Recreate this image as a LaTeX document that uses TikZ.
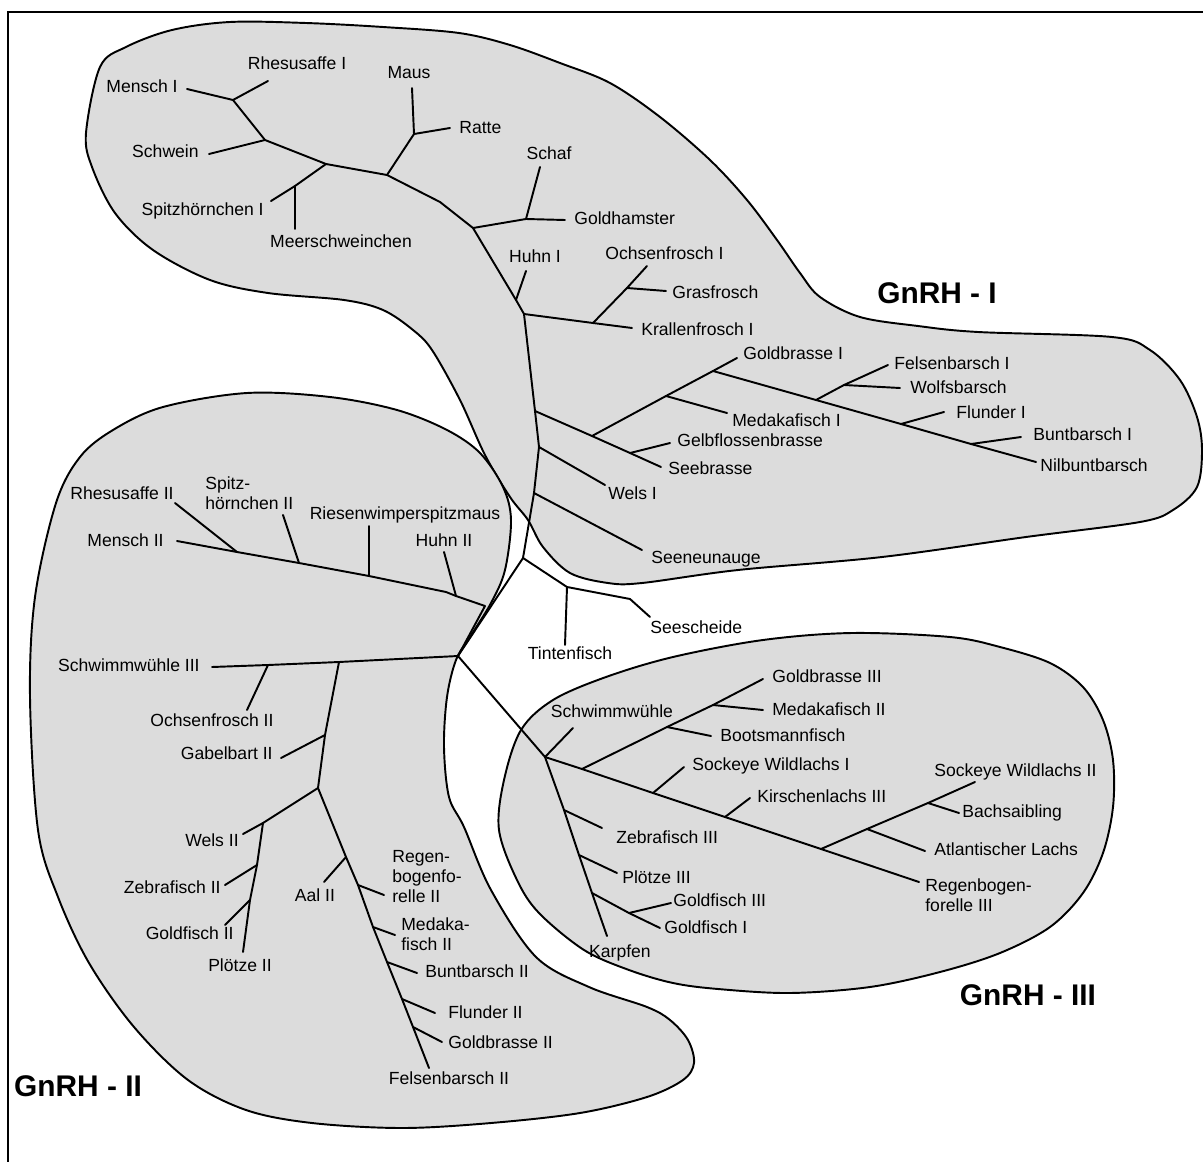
\documentclass[tikz,border=0pt]{standalone}
\usepackage{fontspec}
\setmainfont{Liberation Sans}
\usepackage{xcolor}
\usepackage{tikz}
\definecolor{blobgray}{RGB}{220,220,220}

\begin{document}
\begin{tikzpicture}[x=0.02cm, y=-0.02cm,
        branch/.style={line width=1.1pt, line join=round, line cap=round},
        group/.style={fill=blobgray, draw=black, line width=1.1pt},
        taxon/.style={inner sep=0pt, text height=7.2pt, text depth=0pt, font=\fontsize{10}{11.4}\selectfont},
        taxonml/.style={inner sep=0pt, align=left, anchor=north west, font=\fontsize{10}{11.4}\selectfont},
        gene/.style={inner sep=0pt, font=\fontsize{17}{20}\selectfont\bfseries}]
        \useasboundingbox (0,0) rectangle (1203,1162);

        % frame (only top and left edge show)
        \draw[line width=1.1pt] (8,1162) -- (8,12) -- (1203,12);

        % the three groups
        \draw[group] plot[smooth cycle, tension=0.55] coordinates {(86,133) (100,67) (126,47) (172,30) (230,22) (306,23) (383,27) (459,33) (510,45) (560,63) (610,83) (660,117) (710,160) (747,200) (777,240) (800,273) (820,297) (860,317) (918,326) (978,332) (1112,337) (1150,350) (1180,380) (1197,417) (1202,450) (1197,487) (1173,510) (1140,522) (1026,537) (882,557) (738,570) (642,583) (608,583) (570,573) (543,547) (528,520) (510,497) (485,455) (460,400) (432,350) (413,330) (383,310) (344,300) (268,293) (210,280) (153,250) (115,213) (92,167)};
        \draw[group] plot[smooth cycle, tension=0.55] coordinates {(80,457) (113,430) (163,407) (247,393) (330,397) (397,410) (447,430) (480,453) (503,487) (511,520) (505,570) (491,603) (470,637) (456,660) (447,697) (444,747) (449,797) (464,827) (491,890) (536,957) (589,987) (647,1007) (670,1020) (688,1040) (694,1063) (683,1080) (647,1097) (580,1113) (491,1123) (402,1128) (312,1123) (246,1110) (188,1080) (134,1027) (89,963) (58,897) (38,830) (30,697) (35,597) (56,503)};
        \draw[group] plot[smooth cycle, tension=0.55] coordinates {(950,637) (1000,647) (1050,663) (1083,687) (1103,720) (1113,760) (1113,807) (1103,853) (1083,893) (1050,927) (1000,953) (940,972) (870,987) (790,993) (718,989) (673,983) (629,970) (584,950) (539,913) (517,880) (499,830) (504,780) (521,730) (553,700) (606,677) (673,657) (763,640) (852,633)};

        \node[gene] (gnrh1) at (937,293) {GnRH - I};
        \node[gene] (gnrh2) at (78,1086) {GnRH - II};
        \node[gene] (gnrh3) at (1028,995) {GnRH - III};

        % inner points of the tree
        \coordinate (a1) at (233,100);
        \coordinate (a2) at (265,140);
        \coordinate (a3) at (326,164);
        \coordinate (a4) at (295,186);
        \coordinate (a5) at (387,175);
        \coordinate (a5b) at (440,202);
        \coordinate (a6) at (414,134);
        \coordinate (a7) at (473,228);
        \coordinate (a8) at (526,219);
        \coordinate (hu1) at (516,300);
        \coordinate (a9) at (524,314);
        \coordinate (b1) at (593,323);
        \coordinate (b2) at (627,288);
        \coordinate (ta) at (535,411);
        \coordinate (tb) at (539,447);
        \coordinate (tc) at (534,493);
        \coordinate (t1) at (523,558);
        \coordinate (t2) at (567,587);
        \coordinate (t2b) at (630,599);
        \coordinate (t3) at (458,656);
        \coordinate (c1) at (592,436);
        \coordinate (c1b) at (630,453);
        \coordinate (c2) at (666,396);
        \coordinate (c3) at (713,371);
        \coordinate (d1) at (816,400);
        \coordinate (d1a) at (844,385);
        \coordinate (d2) at (901,424);
        \coordinate (d3) at (971,444);
        \coordinate (m0) at (485,606);
        \coordinate (m1) at (237,552);
        \coordinate (m2) at (299,563);
        \coordinate (m3) at (369,576);
        \coordinate (m4) at (446,592);
        \coordinate (m5) at (456,596);
        \coordinate (n1) at (268,665);
        \coordinate (n2) at (339,662);
        \coordinate (l0) at (325,735);
        \coordinate (l1) at (318,788);
        \coordinate (l2) at (263,823);
        \coordinate (l3) at (257,865);
        \coordinate (l4) at (250,900);
        \coordinate (r1) at (346,857);
        \coordinate (r2) at (358,885);
        \coordinate (r3) at (373,927);
        \coordinate (r4) at (387,962);
        \coordinate (r5) at (402,999);
        \coordinate (r6) at (413,1027);
        \coordinate (g0) at (545,757);
        \coordinate (g1) at (564,810);
        \coordinate (g2) at (579,855);
        \coordinate (g3) at (592,893);
        \coordinate (g3a) at (629,913);
        \coordinate (j1) at (582,769);
        \coordinate (j2) at (653,793);
        \coordinate (j3) at (725,817);
        \coordinate (j4) at (821,849);
        \coordinate (k1) at (667,727);
        \coordinate (k2) at (713,705);
        \coordinate (p1) at (867,829);
        \coordinate (p2) at (928,803);

        % leaf ends
        \coordinate (mensch1) at (187,89);
        \coordinate (rhesus1) at (268,81);
        \coordinate (schwein) at (209,154);
        \coordinate (spitz1) at (271,201);
        \coordinate (meer) at (295,229);
        \coordinate (maus) at (412,88);
        \coordinate (ratte) at (450,128);
        \coordinate (schaf) at (540,167);
        \coordinate (hamster) at (565,220);
        \coordinate (huhn1) at (526,271);
        \coordinate (ochsen1) at (647,266);
        \coordinate (gras) at (666,291);
        \coordinate (krallen) at (632,328);
        \coordinate (goldbr1) at (737,358);
        \coordinate (medaka1) at (727,413);
        \coordinate (gelb) at (670,443);
        \coordinate (seebr) at (661,467);
        \coordinate (fels1) at (888,365);
        \coordinate (wolf) at (900,388);
        \coordinate (flund1) at (944,412);
        \coordinate (bunt1) at (1021,437);
        \coordinate (nil) at (1036,462);
        \coordinate (wels1) at (605,485);
        \coordinate (neunauge) at (642,550);
        \coordinate (tinten) at (565,645);
        \coordinate (seesch) at (650,617);
        \coordinate (rhesus2) at (175,503);
        \coordinate (spitz2) at (283,515);
        \coordinate (riesen) at (369,526);
        \coordinate (mensch2) at (177,541);
        \coordinate (huhn2) at (444,552);
        \coordinate (schwimm3) at (212,667);
        \coordinate (ochsen2) at (247,710);
        \coordinate (gabel) at (281,758);
        \coordinate (wels2) at (243,834);
        \coordinate (zebra2) at (225,885);
        \coordinate (gold2) at (225,925);
        \coordinate (ploetze2) at (243,952);
        \coordinate (aal) at (324,882);
        \coordinate (regen2) at (384,895);
        \coordinate (medaka2b) at (395,935);
        \coordinate (bunt2) at (417,973);
        \coordinate (flund2) at (435,1013);
        \coordinate (goldbr2) at (442,1042);
        \coordinate (fels2) at (429,1068);
        \coordinate (schwimm) at (573,728);
        \coordinate (zebra3) at (602,828);
        \coordinate (ploetze3) at (617,873);
        \coordinate (gold3) at (671,903);
        \coordinate (gold1) at (660,928);
        \coordinate (karpfen) at (607,936);
        \coordinate (goldbr3) at (763,679);
        \coordinate (medaka2) at (763,710);
        \coordinate (boots) at (711,736);
        \coordinate (sock1) at (684,767);
        \coordinate (kirsch) at (750,798);
        \coordinate (sock2) at (975,782);
        \coordinate (bach) at (959,813);
        \coordinate (atl) at (925,851);
        \coordinate (regen3) at (919,882);

        % GnRH - I
        \draw[branch] (mensch1) -- (a1) -- (a2) -- (a3) -- (a5) -- (a5b) -- (a7) -- (hu1) -- (a9) -- (ta) -- (tb) -- (tc) -- (t1);
        \draw[branch] (a1) -- (rhesus1);
        \draw[branch] (a2) -- (schwein);
        \draw[branch] (a3) -- (a4) -- (spitz1);
        \draw[branch] (a4) -- (meer);
        \draw[branch] (a5) -- (a6) -- (maus);
        \draw[branch] (a6) -- (ratte);
        \draw[branch] (a7) -- (a8) -- (schaf);
        \draw[branch] (a8) -- (hamster);
        \draw[branch] (hu1) -- (huhn1);
        \draw[branch] (a9) -- (b1) -- (krallen);
        \draw[branch] (b1) -- (b2) -- (ochsen1);
        \draw[branch] (b2) -- (gras);
        \draw[branch] (ta) -- (c1) -- (c1b) -- (seebr);
        \draw[branch] (c1b) -- (gelb);
        \draw[branch] (c1) -- (c2) -- (c3) -- (goldbr1);
        \draw[branch] (c2) -- (medaka1);
        \draw[branch] (c3) -- (d1) -- (d2) -- (d3) -- (nil);
        \draw[branch] (d1) -- (d1a) -- (fels1);
        \draw[branch] (d1a) -- (wolf);
        \draw[branch] (d2) -- (flund1);
        \draw[branch] (d3) -- (bunt1);
        \draw[branch] (tb) -- (wels1);
        \draw[branch] (tc) -- (neunauge);

        % centre
        \draw[branch] (t1) -- (t2) -- (tinten);
        \draw[branch] (t2) -- (t2b) -- (seesch);
        \draw[branch] (t1) -- (t3);
        \draw[branch] (t3) -- (g0);

        % GnRH - II
        \draw[branch] (mensch2) -- (m1) -- (m2) -- (m3) -- (m4) -- (m5) -- (m0) -- (t3);
        \draw[branch] (rhesus2) -- (m1);
        \draw[branch] (spitz2) -- (m2);
        \draw[branch] (riesen) -- (m3);
        \draw[branch] (huhn2) -- (m5);
        \draw[branch] (t3) -- (n2) -- (n1) -- (schwimm3);
        \draw[branch] (n1) -- (ochsen2);
        \draw[branch] (n2) -- (l0) -- (l1);
        \draw[branch] (l0) -- (gabel);
        \draw[branch] (l1) -- (l2) -- (wels2);
        \draw[branch] (l2) -- (l3) -- (l4) -- (ploetze2);
        \draw[branch] (l3) -- (zebra2);
        \draw[branch] (l4) -- (gold2);
        \draw[branch] (l1) -- (r1) -- (r2) -- (r3) -- (r4) -- (r5) -- (r6) -- (fels2);
        \draw[branch] (r1) -- (aal);
        \draw[branch] (r2) -- (regen2);
        \draw[branch] (r3) -- (medaka2b);
        \draw[branch] (r4) -- (bunt2);
        \draw[branch] (r5) -- (flund2);
        \draw[branch] (r6) -- (goldbr2);

        % GnRH - III
        \draw[branch] (g0) -- (schwimm);
        \draw[branch] (g0) -- (g1) -- (g2) -- (g3) -- (karpfen);
        \draw[branch] (g1) -- (zebra3);
        \draw[branch] (g2) -- (ploetze3);
        \draw[branch] (g3) -- (g3a) -- (gold1);
        \draw[branch] (g3a) -- (gold3);
        \draw[branch] (g0) -- (j1) -- (j2) -- (j3) -- (j4) -- (regen3);
        \draw[branch] (j1) -- (k1) -- (k2) -- (goldbr3);
        \draw[branch] (k2) -- (medaka2);
        \draw[branch] (k1) -- (boots);
        \draw[branch] (j2) -- (sock1);
        \draw[branch] (j3) -- (kirsch);
        \draw[branch] (j4) -- (p1) -- (p2) -- (sock2);
        \draw[branch] (p1) -- (atl);
        \draw[branch] (p2) -- (bach);

        % labels GnRH - I
        \node[taxon, anchor=east] (l-mensch1) at (178,86) {Mensch I};
        \node[taxon] (l-rhesus1) at (297,63) {Rhesusaffe I};
        \node[taxon, anchor=east] (l-schwein) at (199,151) {Schwein};
        \node[taxon, anchor=east] (l-spitz1) at (264,209) {Spitzhörnchen I};
        \node[taxon] (l-meer) at (341,241) {Meerschweinchen};
        \node[taxon] (l-maus) at (409,72) {Maus};
        \node[taxon, anchor=west] (l-ratte) at (459,127) {Ratte};
        \node[taxon] (l-schaf) at (549,153) {Schaf};
        \node[taxon, anchor=west] (l-hamster) at (574,218) {Goldhamster};
        \node[taxon] (l-huhn1) at (535,256) {Huhn I};
        \node[taxon, anchor=west] (l-ochsen1) at (605,253) {Ochsenfrosch I};
        \node[taxon, anchor=west] (l-gras) at (672,292) {Grasfrosch};
        \node[taxon, anchor=west] (l-krallen) at (641,329) {Krallenfrosch I};
        \node[taxon, anchor=west] (l-goldbr1) at (743,353) {Goldbrasse I};
        \node[taxon, anchor=west] (l-medaka1) at (732,420) {Medakafisch I};
        \node[taxon, anchor=west] (l-gelb) at (677,440) {Gelbflossenbrasse};
        \node[taxon, anchor=west] (l-seebr) at (668,468) {Seebrasse};
        \node[taxon, anchor=west] (l-fels1) at (894,363) {Felsenbarsch I};
        \node[taxon, anchor=west] (l-wolf) at (910,387) {Wolfsbarsch};
        \node[taxon, anchor=west] (l-flund1) at (956,412) {Flunder I};
        \node[taxon, anchor=west] (l-bunt1) at (1033,434) {Buntbarsch I};
        \node[taxon, anchor=west] (l-nil) at (1040,465) {Nilbuntbarsch};
        \node[taxon, anchor=west] (l-wels1) at (608,493) {Wels I};
        \node[taxon, anchor=west] (l-neunauge) at (651,557) {Seeneunauge};
        \node[taxon] (l-tinten) at (570,653) {Tintenfisch};
        \node[taxon, anchor=west] (l-seesch) at (650,627) {Seescheide};

        % labels GnRH - II
        \node[taxon, anchor=east] (l-rhesus2) at (174,493) {Rhesusaffe II};
        \node[taxonml] (l-spitz2) at (205,476) {Spitz-\\hörnchen II};
        \node[taxon] (l-riesen) at (405,513) {Riesenwimperspitzmaus};
        \node[taxon, anchor=east] (l-mensch2) at (164,540) {Mensch II};
        \node[taxon] (l-huhn2) at (444,540) {Huhn II};
        \node[taxon, anchor=east] (l-schwimm3) at (200,665) {Schwimmwühle III};
        \node[taxon] (l-ochsen2) at (212,720) {Ochsenfrosch II};
        \node[taxon, anchor=east] (l-gabel) at (273,753) {Gabelbart II};
        \node[taxon, anchor=east] (l-wels2) at (239,840) {Wels II};
        \node[taxon, anchor=east] (l-zebra2) at (221,887) {Zebrafisch II};
        \node[taxon, anchor=east] (l-gold2) at (234,933) {Goldfisch II};
        \node[taxon] (l-ploetze2) at (240,965) {Plötze II};
        \node[taxon] (l-aal) at (315,895) {Aal II};
        \node[taxonml] (l-regen2) at (392,850) {Regen-\\bogenfo-\\relle II};
        \node[taxonml] (l-medaka2b) at (401,917) {Medaka-\\fisch II};
        \node[taxon, anchor=west] (l-bunt2) at (425,971) {Buntbarsch II};
        \node[taxon, anchor=west] (l-flund2) at (448,1012) {Flunder II};
        \node[taxon, anchor=west] (l-goldbr2) at (448,1042) {Goldbrasse II};
        \node[taxon] (l-fels2) at (449,1078) {Felsenbarsch II};

        % labels GnRH - III
        \node[taxon] (l-schwimm) at (612,711) {Schwimmwühle};
        \node[taxon, anchor=west] (l-goldbr3) at (772,676) {Goldbrasse III};
        \node[taxon, anchor=west] (l-medaka2) at (772,709) {Medakafisch II};
        \node[taxon, anchor=west] (l-boots) at (720,735) {Bootsmannfisch};
        \node[taxon, anchor=west] (l-sock1) at (692,764) {Sockeye Wildlachs I};
        \node[taxon, anchor=west] (l-kirsch) at (757,796) {Kirschenlachs III};
        \node[taxon, anchor=west] (l-sock2) at (934,770) {Sockeye Wildlachs II};
        \node[taxon, anchor=west] (l-bach) at (962,811) {Bachsaibling};
        \node[taxon, anchor=west] (l-atl) at (934,849) {Atlantischer Lachs};
        \node[taxonml] (l-regen3) at (925,878) {Regenbogen-\\forelle III};
        \node[taxon, anchor=west] (l-zebra3) at (616,837) {Zebrafisch III};
        \node[taxon, anchor=west] (l-ploetze3) at (622,877) {Plötze III};
        \node[taxon, anchor=west] (l-gold3) at (673,900) {Goldfisch III};
        \node[taxon, anchor=west] (l-gold1) at (664,927) {Goldfisch I};
        \node[taxon] (l-karpfen) at (620,951) {Karpfen};
    \end{tikzpicture}
\end{document}
